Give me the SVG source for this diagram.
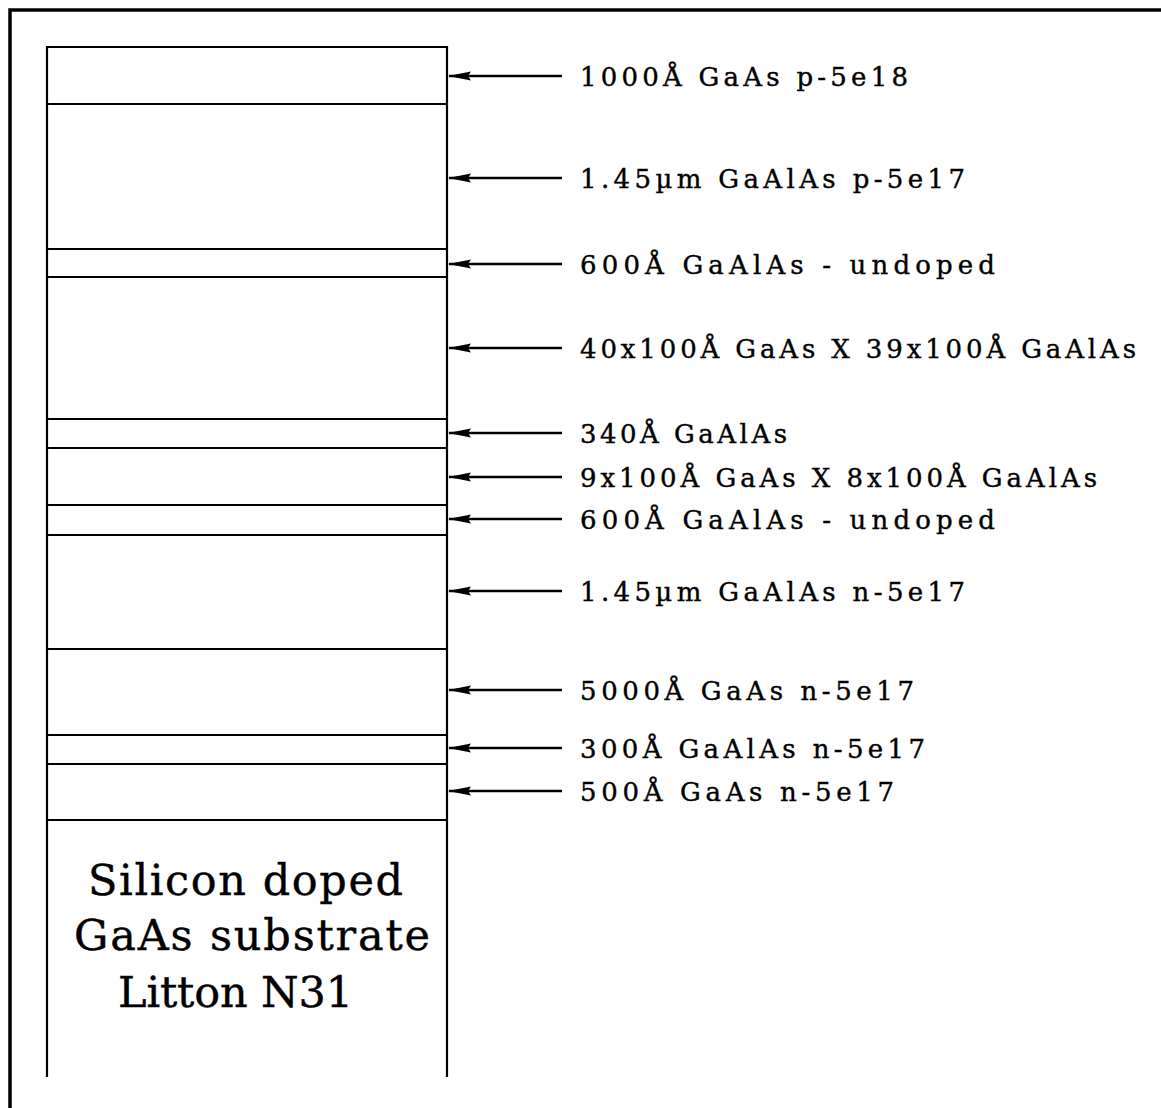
<svg xmlns="http://www.w3.org/2000/svg" width="1161" height="1108" viewBox="0 0 1161 1108">
<style>
.ln{stroke:#000;stroke-width:2.2;fill:none}
.fr{stroke:#000;stroke-width:3.5;fill:none}
.lbl{font-family:"DejaVu Serif","Liberation Serif",serif;font-size:26px;fill:#000;stroke:#000;stroke-width:0.4}
.sub{font-family:"DejaVu Serif","Liberation Serif",serif;font-size:43px;fill:#000;stroke:#000;stroke-width:0.4}
.arr{stroke:#000;stroke-width:2.4;fill:none}
</style>
<defs>
<marker id="ah" markerUnits="userSpaceOnUse" markerWidth="24" markerHeight="10" refX="23" refY="5" orient="auto" viewBox="0 0 24 10">
<path d="M24,5 L1,0.5 L4,5 L1,9.5 Z" fill="#000"/>
</marker>
</defs>
<rect width="1161" height="1108" fill="#fff"/>
<path class="fr" d="M10,1108 V10 H1161"/>
<g id="stack">
<path class="ln" d="M47,1077 V47 H447 V1077"/>
</g>
<g id="layer1"><path class="ln" d="M47,104 H447"/><text class="lbl" x="580" y="86" textLength="328" lengthAdjust="spacing">1000Å GaAs p-5e18</text></g>
<g id="layer2"><path class="ln" d="M47,249 H447"/><text class="lbl" x="580" y="188" textLength="385" lengthAdjust="spacing">1.45µm GaAlAs p-5e17</text></g>
<g id="layer3"><path class="ln" d="M47,277 H447"/><text class="lbl" x="580" y="274" textLength="415" lengthAdjust="spacing">600Å GaAlAs - undoped</text></g>
<g id="layer4"><path class="ln" d="M47,419 H447"/><text class="lbl" x="580" y="358" textLength="556" lengthAdjust="spacing">40x100Å GaAs X 39x100Å GaAlAs</text></g>
<g id="layer5"><path class="ln" d="M47,448 H447"/><text class="lbl" x="580" y="443" textLength="207" lengthAdjust="spacing">340Å GaAlAs</text></g>
<g id="layer6"><path class="ln" d="M47,505 H447"/><text class="lbl" x="580" y="487" textLength="517" lengthAdjust="spacing">9x100Å GaAs X 8x100Å GaAlAs</text></g>
<g id="layer7"><path class="ln" d="M47,535 H447"/><text class="lbl" x="580" y="529" textLength="415" lengthAdjust="spacing">600Å GaAlAs - undoped</text></g>
<g id="layer8"><path class="ln" d="M47,649 H447"/><text class="lbl" x="580" y="601" textLength="385" lengthAdjust="spacing">1.45µm GaAlAs n-5e17</text></g>
<g id="layer9"><path class="ln" d="M47,735 H447"/><text class="lbl" x="580" y="700" textLength="334" lengthAdjust="spacing">5000Å GaAs n-5e17</text></g>
<g id="layer10"><path class="ln" d="M47,764 H447"/><text class="lbl" x="580" y="758" textLength="345" lengthAdjust="spacing">300Å GaAlAs n-5e17</text></g>
<g id="layer11"><path class="ln" d="M47,820 H447"/><text class="lbl" x="580" y="801" textLength="314" lengthAdjust="spacing">500Å GaAs n-5e17</text></g>
<g id="substrate">
<text class="sub" x="88" y="895" textLength="315" lengthAdjust="spacing">Silicon doped</text>
<text class="sub" x="74" y="950" textLength="356" lengthAdjust="spacing">GaAs substrate</text>
<text class="sub" x="118" y="1007" textLength="235" lengthAdjust="spacing">Litton N31</text>
</g>
<g id="connectors">
<path class="arr" d="M562,76 H449" marker-end="url(#ah)"/>
<path class="arr" d="M562,178 H449" marker-end="url(#ah)"/>
<path class="arr" d="M562,264 H449" marker-end="url(#ah)"/>
<path class="arr" d="M562,348 H449" marker-end="url(#ah)"/>
<path class="arr" d="M562,433 H449" marker-end="url(#ah)"/>
<path class="arr" d="M562,477 H449" marker-end="url(#ah)"/>
<path class="arr" d="M562,519 H449" marker-end="url(#ah)"/>
<path class="arr" d="M562,591 H449" marker-end="url(#ah)"/>
<path class="arr" d="M562,690 H449" marker-end="url(#ah)"/>
<path class="arr" d="M562,748 H449" marker-end="url(#ah)"/>
<path class="arr" d="M562,791 H449" marker-end="url(#ah)"/>
</g>
</svg>
